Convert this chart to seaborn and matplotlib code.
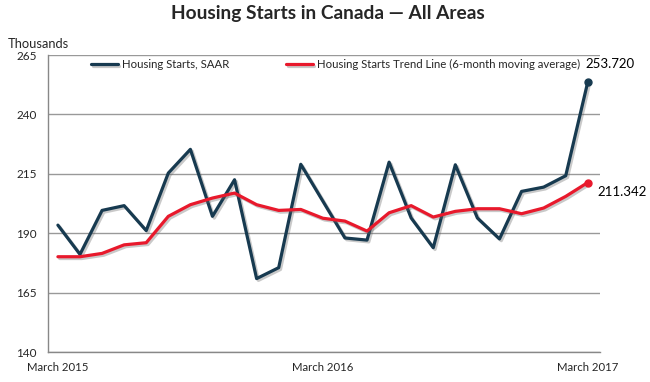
import matplotlib
matplotlib.use('Agg')
import matplotlib.pyplot as plt
import matplotlib.patheffects as pe
import pandas as pd
import seaborn as sns

months = pd.date_range('2015-03-01', '2017-03-01', freq='MS')
saar = [193.4, 181.1, 199.6, 201.6, 191.1, 215.3, 225.3, 197.1, 212.5, 170.9,
        175.5, 219.0, 203.5, 188.0, 187.1, 219.9, 196.4, 183.9, 218.8, 196.4,
        187.6, 207.6, 209.4, 214.2, 253.720]
trend = [180.1, 180.1, 181.5, 185.1, 186.0, 197.1, 202.0, 204.8, 206.9, 202.0,
         199.6, 200.0, 196.3, 195.1, 190.9, 198.6, 201.6, 196.8, 199.2, 200.3,
         200.3, 198.2, 200.6, 205.5, 211.342]
tick_pos = [0, 12, 24]
tick_labels = ['March 2015', 'March 2016', 'March 2017']
y_ticks = [140, 165, 190, 215, 240, 265]

navy = '#173a50'
red = '#e8192c'

sns.set_style('white')
plt.rcParams['font.family'] = ['Lato', 'DejaVu Sans']

df = pd.DataFrame({'idx': range(len(months)), 'saar': saar, 'trend': trend})

fig = plt.figure(figsize=(6.5, 3.82), dpi=100)
ax = fig.add_axes([0.0738, 0.0785, 0.8492, 0.7775])

shadow = [pe.SimpleLineShadow(offset=(1.3, -1.3), shadow_color='#666666', alpha=0.35), pe.Normal()]
sns.lineplot(data=df, x='idx', y='saar', ax=ax, color=navy, lw=2.3,
             label='Housing Starts, SAAR', path_effects=shadow)
sns.lineplot(data=df, x='idx', y='trend', ax=ax, color=red, lw=2.3,
             label='Housing Starts Trend Line (6-month moving average)', path_effects=shadow)

last = len(months) - 1
ax.plot(last, saar[-1], 'o', color=navy, ms=5)
ax.plot(last, trend[-1], 'o', color=red, ms=5)
ax.annotate(f'{saar[-1]:.3f}', (last, saar[-1]), xytext=(-2, 13), textcoords='offset points',
            fontsize=9.5, color='black', va='center')
ax.annotate(f'{trend[-1]:.3f}', (last, trend[-1]), xytext=(7, -7), textcoords='offset points',
            fontsize=9.5, color='black', va='center')

ax.set_xlim(-0.45, 24.55)
ax.set_ylim(140, 265)
ax.set_yticks(y_ticks)
ax.set_xticks(tick_pos)
ax.set_xticklabels(tick_labels)
ax.set_xlabel('')
ax.set_ylabel('')
ax.yaxis.grid(True, color='#999999', lw=1)
ax.xaxis.grid(False)
for s in ['top', 'right']:
    ax.spines[s].set_visible(False)
for s in ['left', 'bottom']:
    ax.spines[s].set_color('#888888')
    ax.spines[s].set_linewidth(1)
ax.tick_params(axis='y', length=5, color='#888888', labelsize=8.5, pad=3)
ax.tick_params(axis='x', length=0, labelsize=8.2, pad=7)

ax.legend(loc='upper left', bbox_to_anchor=(0.06, 1.02), ncol=2, frameon=False,
          fontsize=8.2, handlelength=2.3, handletextpad=0.4, columnspacing=5.0)

fig.text(0.505, 0.965, 'Housing Starts in Canada \u2014 All Areas', ha='center', va='center',
         fontsize=13.8, fontweight='bold')
fig.text(0.012, 0.885, 'Thousands', ha='left', va='center', fontsize=9.3)

fig.savefig('out.png', dpi=100)
